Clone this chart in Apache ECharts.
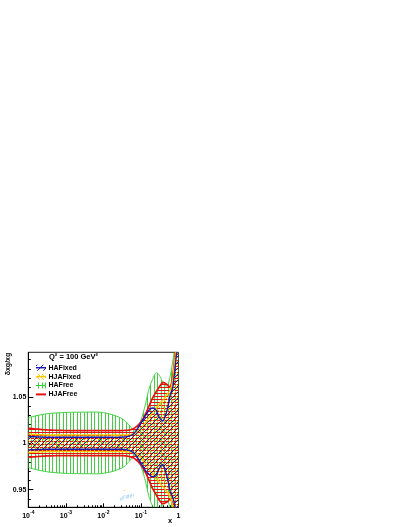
<!DOCTYPE html>
<html><head><meta charset="utf-8">
<script src="https://cdn.jsdelivr.net/npm/echarts@6/dist/echarts.min.js"></script>
<style>html,body{margin:0;padding:0;background:#fff}#c{width:407px;height:527px}</style>
</head><body><div id="c"></div>
<script>
// ---------- data ----------
const xVals = [1e-4,3e-4,1e-3,3e-3,1e-2,3e-2,0.05,0.07,0.1,0.13,0.16,0.2,0.25,0.3,0.35,0.4,0.5,0.6,0.7,0.8,0.9,1.0];

const haFreeHi  = [1.0277,1.0317,1.0331,1.0335,1.033,1.027,1.019,1.0135,1.025,1.041,1.057,1.068,1.0756,1.074,1.069,1.064,1.062,1.072,1.088,1.105,1.13,1.16];
const haFreeLo  = [0.9737,0.9694,0.9676,0.9672,0.9676,0.973,0.981,0.9865,0.975,0.96,0.944,0.933,0.926,0.927,0.931,0.936,0.938,0.93,0.915,0.9,0.88,0.85];

const hjaFreeHi = [1.0162,1.0144,1.0137,1.0137,1.0137,1.0137,1.0144,1.017,1.023,1.031,1.039,1.048,1.055,1.060,1.064,1.0655,1.063,1.061,1.072,1.094,1.12,1.15];
const hjaFreeLo = [0.9849,0.9863,0.9867,0.9867,0.9867,0.9867,0.9856,0.983,0.9766,0.969,0.961,0.952,0.945,0.9395,0.936,0.935,0.937,0.9395,0.935,0.92,0.9,0.87];

const hjaFixedHi = [1.010,1.009,1.009,1.009,1.009,1.009,1.0094,1.011,1.016,1.0216,1.027,1.033,1.038,1.0414,1.045,1.0475,1.053,1.0576,1.068,1.09,1.11,1.13];
const hjaFixedLo = [0.990,0.991,0.991,0.991,0.991,0.991,0.9906,0.989,0.984,0.978,0.973,0.967,0.962,0.9586,0.955,0.9525,0.947,0.942,0.932,0.91,0.89,0.87];

const haFixedHi = [1.0072,1.0065,1.0065,1.0065,1.0065,1.0065,1.008,1.012,1.0216,1.0295,1.035,1.038,1.036,1.029,1.025,1.025,1.036,1.052,1.06,1.079,1.1,1.12];
const haFixedLo = [0.9928,0.9935,0.9935,0.9935,0.9935,0.9935,0.992,0.988,0.9784,0.971,0.967,0.964,0.965,0.972,0.976,0.976,0.963,0.948,0.942,0.9316,0.91,0.88];

const seriesNames = ['HAFixed','HJAFixed','HAFree','HJAFree'];
const yMajorTicks = [0.95, 1, 1.05];
const yMinorTicks = [0.94,0.96,0.97,0.98,0.99,1.01,1.02,1.03,1.04,1.06,1.07,1.08,1.09];
const xMajorTicks = [1e-4,1e-3,1e-2,1e-1,1];
const xMinorTicks = [];
for (let d = -4; d < 0; d++) for (let m = 2; m <= 9; m++) xMinorTicks.push(+(m * Math.pow(10, d)).toPrecision(3));

// ---------- styles ----------
const FONT = 'Liberation Sans';
const C_GREEN = '#3fcf3f', C_RED = '#e81010', C_YEL = '#ffc800', C_BLUE = '#1a1ab4';

function pattern(draw, w, h) {
  const c = document.createElement('canvas'); c.width = w; c.height = h;
  const g = c.getContext('2d'); draw(g, w, h);
  return { image: c, repeat: 'repeat' };
}
const patGreen = pattern((g,w,h)=>{ g.fillStyle = C_GREEN; g.fillRect(0,0,1,h); g.fillRect(3,0,1,h); }, 7, 7);
const patRed   = pattern((g,w,h)=>{ g.fillStyle = C_RED; g.fillRect(0,0,w,1); g.fillRect(0,3,w,1); }, 6, 6);
const patYel   = pattern((g,w,h)=>{ g.fillStyle = C_YEL; for (let i=0;i<w;i++) g.fillRect(i,i,1,1); }, 4, 4);
const patBlue  = pattern((g,w,h)=>{ g.fillStyle = C_BLUE; for (let i=0;i<w;i++) g.fillRect(i,w-1-i,1,1); }, 6, 6);

function catmull(pts, seg) {
  const out = [];
  for (let i = 0; i < pts.length - 1; i++) {
    const p0 = pts[Math.max(i-1,0)], p1 = pts[i], p2 = pts[i+1], p3 = pts[Math.min(i+2, pts.length-1)];
    for (let s = 0; s < seg; s++) {
      const t = s / seg, t2 = t*t, t3 = t2*t;
      const f = (a,b,c,d) => 0.5*((2*b) + (-a+c)*t + (2*a-5*b+4*c-d)*t2 + (-a+3*b-3*c+d)*t3);
      out.push([f(p0[0],p1[0],p2[0],p3[0]), f(p0[1],p1[1],p2[1],p3[1])]);
    }
  }
  out.push(pts[pts.length-1]);
  return out;
}

function band(name, lo, hi, fill, stroke, lw, z) {
  return {
    type: 'custom', name, z, coordinateSystem: 'cartesian2d', xAxisIndex: 0, yAxisIndex: 0,
    data: xVals.map((x, i) => [x, lo[i], hi[i]]),
    encode: { x: 0, y: [1, 2] },
    renderItem: (params, api) => {
      if (params.dataIndex !== 0) return null;
      const n = params.dataInsideLength;
      const up = [], dn = [];
      for (let i = 0; i < n; i++) {
        const x = api.value(0, i);
        dn.push(api.coord([x, api.value(1, i)]));
        up.push(api.coord([x, api.value(2, i)]));
      }
      const su = catmull(up, 10), sd = catmull(dn, 10);
      const cs = params.coordSys;
      return {
        type: 'group',
        clipPath: { type: 'rect', shape: { x: cs.x, y: cs.y, width: cs.width, height: cs.height } },
        children: [
          { type: 'polygon', shape: { points: su.concat(sd.slice().reverse()) }, style: { fill: fill, stroke: null } },
          { type: 'polyline', shape: { points: su }, style: { stroke: stroke, lineWidth: lw, fill: null } },
          { type: 'polyline', shape: { points: sd }, style: { stroke: stroke, lineWidth: lw, fill: null } }
        ]
      };
    }
  };
}

// ---------- legend (graphic) ----------
const legendItems = [
  { name: seriesNames[0], fill: patBlue,  color: C_BLUE,  lw: 1.5 },
  { name: seriesNames[1], fill: patYel,   color: C_YEL,   lw: 1.5 },
  { name: seriesNames[2], fill: patGreen, color: C_GREEN, lw: 1.2 },
  { name: seriesNames[3], fill: null,     color: C_RED,   lw: 2 }
];
const legendGraphics = [];
legendItems.forEach((it, k) => {
  const yc = 367.7 + k * 8.9;
  if (it.fill) legendGraphics.push({ type: 'rect', shape: { x: 36, y: yc - 3, width: 10, height: 6 }, style: { fill: it.fill }, z: 50 });
  legendGraphics.push({ type: 'line', shape: { x1: 36, y1: yc, x2: 46, y2: yc }, style: { stroke: it.color, lineWidth: it.lw }, z: 51 });
  legendGraphics.push({ type: 'text', x: 48.5, y: yc, style: { text: it.name, font: 'bold 7px "' + FONT + '"', fill: '#000', verticalAlign: 'middle' }, z: 51 });
});

const chart = echarts.init(document.getElementById('c'), null, { renderer: 'canvas' });
const tickLine = { color: '#000', width: 1 };
chart.setOption({
  animation: false,
  backgroundColor: '#fff',
  grid: { left: 28.3, top: 352.3, right: 228.5, bottom: 19.7, show: true, borderColor: '#222', borderWidth: 1, outerBoundsMode: 'none' },
  xAxis: [
    { type: 'log', logBase: 10, min: 1e-4, max: 1, position: 'bottom',
      axisLine: { lineStyle: tickLine },
      axisTick: { inside: true, length: 4, lineStyle: tickLine, customValues: xMajorTicks },
      axisLabel: { margin: 3, customValues: xMajorTicks,
        formatter: v => { const e = Math.round(Math.log10(v)); return e === 0 ? '{b|1}' : '{b|10}{s|' + e + '}'; },
        rich: {
          b: { fontFamily: FONT, fontWeight: 'bold', fontSize: 7, color: '#000', lineHeight: 9, verticalAlign: 'bottom' },
          s: { fontFamily: FONT, fontWeight: 'bold', fontSize: 5, color: '#000', lineHeight: 5, verticalAlign: 'top' }
        } },
      splitLine: { show: false }, minorTick: { show: false } },
    { type: 'log', logBase: 10, min: 1e-4, max: 1, position: 'bottom', gridIndex: 0,
      axisLine: { show: false }, axisLabel: { show: false },
      axisTick: { inside: true, length: 2, lineStyle: tickLine, customValues: xMinorTicks },
      splitLine: { show: false } }
  ],
  yAxis: [
    { type: 'value', min: 0.931, max: 1.098, position: 'left',
      axisLine: { show: true, lineStyle: tickLine },
      axisTick: { inside: true, length: 5, lineStyle: tickLine, customValues: yMajorTicks },
      axisLabel: { margin: 2, customValues: yMajorTicks, fontFamily: FONT, fontWeight: 'bold', fontSize: 7, color: '#000',
        formatter: v => (Math.abs(v - 1) < 1e-9 ? '1' : v.toFixed(2)) },
      splitLine: { show: false } },
    { type: 'value', min: 0.931, max: 1.098, position: 'left', gridIndex: 0,
      axisLine: { show: false }, axisLabel: { show: false },
      axisTick: { inside: true, length: 2.5, lineStyle: tickLine, customValues: yMinorTicks },
      splitLine: { show: false } }
  ],
  series: [
    band(seriesNames[2], haFreeLo, haFreeHi, patGreen, C_GREEN, 1, 2),
    band(seriesNames[3], hjaFreeLo, hjaFreeHi, patRed, C_RED, 1.7, 3),
    band(seriesNames[1], hjaFixedLo, hjaFixedHi, patYel, C_YEL, 1.4, 4),
    band(seriesNames[0], haFixedLo, haFixedHi, patBlue, C_BLUE, 1.4, 5)
  ],
  graphic: [
    { type: 'text', x: 8, y: 364, rotation: Math.PI / 2, style: { text: 'δxg/xg', font: 'bold 7px "' + FONT + '"', fill: '#000', align: 'center', verticalAlign: 'middle' }, z: 60 },
    { type: 'text', x: 170, y: 520.5, style: { text: 'x', font: 'bold 7.5px "' + FONT + '"', fill: '#000', align: 'center', verticalAlign: 'middle' }, z: 60 },
    { type: 'text', x: 49, y: 356.7, style: { text: 'Q² = 100 GeV²', font: 'bold 7.5px "' + FONT + '"', fill: '#000', verticalAlign: 'middle' }, z: 60 },
    { type: 'text', x: 127, y: 497, rotation: 0.3, style: { text: 'xFitter', font: 'italic 5.5px "' + FONT + '"', fill: '#88c4ec', align: 'center', verticalAlign: 'middle' }, z: 60 },
    { type: 'circle', shape: { cx: 124.3, cy: 490.5, r: 0.8 }, style: { fill: '#ffd84a' }, z: 60 }
  ].concat(legendGraphics)
});
</script></body></html>
